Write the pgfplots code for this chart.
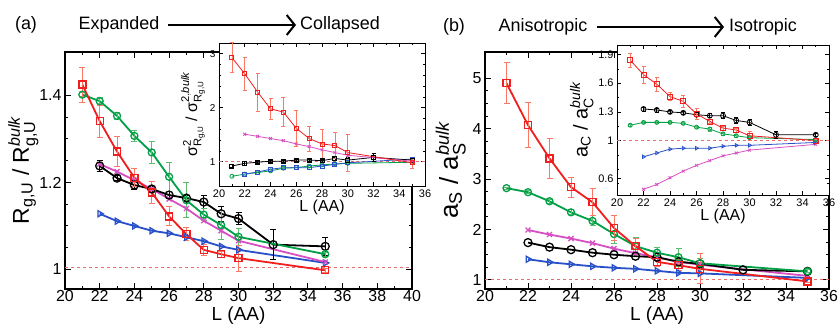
\documentclass[border=0pt]{standalone}
\usepackage{pgfplots}
\pgfplotsset{compat=1.18}
\usepackage{amsmath}
\usepackage{fontspec}
\setmainfont{Liberation Sans}
\usetikzlibrary{arrows.meta}

\definecolor{cred}{RGB}{240,30,30}
\definecolor{credEB}{RGB}{250,120,100}
\definecolor{cgreen}{RGB}{0,160,70}
\definecolor{cgreenEB}{RGB}{90,190,110}
\definecolor{cmag}{RGB}{215,80,195}
\definecolor{cblue}{RGB}{40,80,200}
\definecolor{cdash}{RGB}{230,110,110}

\pgfplotsset{
  mainax/.style={scale only axis, anchor=south west,
    axis line style={line width=1.5bp},
    major tick length=6bp, minor tick length=3bp,
    every tick/.style={line width=1bp, black},
    tick label style={font=\fontsize{16}{18}\selectfont},
    xticklabel style={inner sep=1.5bp},
    xlabel style={font=\fontsize{19}{21}\selectfont, inner sep=1bp, yshift=-2bp},
    ylabel style={font=\fontsize{23}{25}\selectfont},
    /pgf/number format/assume math mode=true,
    xlabel={L (AA)}},
  insax/.style={scale only axis, anchor=south west,
    axis background/.style={fill=white},
    axis line style={line width=0.8bp},
    major tick length=4bp, minor tick length=2bp,
    every tick/.style={line width=0.6bp, black},
    xticklabel style={font=\fontsize{11}{12}\selectfont},
    yticklabel style={font=\fontsize{10}{11}\selectfont},
    xlabel style={font=\fontsize{16}{18}\selectfont, yshift=4bp},
    ylabel style={font=\fontsize{16}{18}\selectfont, yshift=-2bp},
    /pgf/number format/assume math mode=true,
    xmin=20, xmax=36, xtick={20,22,...,36}, minor x tick num=1,
    xlabel={L (AA)}},
  mline/.style={line width=1.8bp, mark size=3.5bp},
  iline/.style={line width=0.8bp, mark size=2bp},
  ebred/.style={error bars/.cd, y dir=both, y explicit,
    error bar style={line width=1bp, credEB},
    error mark options={rotate=90, mark size=3bp, line width=1bp, credEB}},
  ebgreen/.style={error bars/.cd, y dir=both, y explicit,
    error bar style={line width=1bp, cgreenEB},
    error mark options={rotate=90, mark size=3bp, line width=1bp, cgreenEB}},
  ebgreeni/.style={error bars/.cd, y dir=both, y explicit,
    error bar style={line width=0.7bp, cgreenEB},
    error mark options={rotate=90, mark size=2bp, line width=0.7bp, cgreenEB}},
  ebblack/.style={error bars/.cd, y dir=both, y explicit,
    error bar style={line width=1bp, black},
    error mark options={rotate=90, mark size=3bp, line width=1bp, black}},
  ebredi/.style={error bars/.cd, y dir=both, y explicit,
    error bar style={line width=0.7bp, credEB},
    error mark options={rotate=90, mark size=2bp, line width=0.7bp, credEB}},
  ebblacki/.style={error bars/.cd, y dir=both, y explicit,
    error bar style={line width=0.7bp, black},
    error mark options={rotate=90, mark size=2bp, line width=0.7bp, black}},
}

\begin{document}
\begin{tikzpicture}
\path[use as bounding box] (0bp,0bp) rectangle (840bp,330bp);

% titles
\node[font=\fontsize{18}{20}\selectfont] at (26bp,305bp) {(a)};
\node[font=\fontsize{18}{20}\selectfont] at (119bp,305bp) {Expanded};
\draw[line width=2bp, -{Straight Barb[length=8bp, width=20bp, line width=2bp]}] (168bp,305bp) -- (296bp,305bp);
\node[font=\fontsize{18}{20}\selectfont] at (340bp,305bp) {Collapsed};
\node[font=\fontsize{18}{20}\selectfont] at (454bp,303bp) {(b)};
\node[font=\fontsize{18}{20}\selectfont] at (543bp,303bp) {Anisotropic};
\draw[line width=2bp, -{Straight Barb[length=8bp, width=20bp, line width=2bp]}] (597bp,303bp) -- (724bp,303bp);
\node[font=\fontsize{18}{20}\selectfont] at (763bp,303bp) {Isotropic};

% ---------------- panel (a) main
\begin{axis}[mainax, at={(65bp,41bp)}, width=347bp, height=237bp,
  xmin=20, xmax=40, ymin=0.955, ymax=1.5,
  xtick={20,22,...,40}, minor x tick num=1,
  ytick={1,1.2,1.4}, minor y tick num=3,
  ylabel shift=-6bp,
  ylabel={R$_{\text{g,U}}$ / R$^{\textit{bulk}}_{\text{g,U}}$}]
\addplot[cdash, dashed, line width=1bp] coordinates {(20,1.005) (40,1.005)};
\addplot[mline, cblue, mark=triangle, mark options={solid, rotate=-90, line width=1.3bp, fill=white}] table {
22 1.128
23 1.111
24 1.100
25 1.089
26 1.083
27 1.074
28 1.065
29 1.053
30 1.045
35 1.015
};
\addplot[mline, cmag, mark=x, mark options={solid, line width=1.3bp}] table {
22 1.242
23 1.225
24 1.205
25 1.185
26 1.162
27 1.140
28 1.112
29 1.089
30 1.066
35 1.017
};
\addplot[mline, black, mark=o, mark size=4bp, mark options={solid, line width=1.3bp, fill=white}, ebblack] table[y error index=2] {
22 1.238 0.013
23 1.210 0.005
24 1.194 0.010
25 1.185 0.005
26 1.171 0.008
27 1.164 0.005
28 1.155 0.015
29 1.128 0.017
30 1.117 0.013
32 1.057 0.035
35 1.053 0.020
};
\addplot[mline, cgreen, mark=o, mark options={solid, line width=1.3bp, fill=white}, ebgreen] table[y error index=2] {
21 1.402 0.005
22 1.387 0.008
23 1.353 0.008
24 1.307 0.012
25 1.269 0.025
26 1.213 0.033
27 1.159 0.040
28 1.126 0.013
29 1.102 0.033
30 1.075 0.020
35 1.035 0.005
};
\addplot[mline, cred, mark=square, mark options={solid, line width=1.3bp, fill=white}, ebred] table[y error index=2] {
21 1.425 0.040
22 1.341 0.037
23 1.271 0.035
24 1.211 0.020
25 1.177 0.025
26 1.122 0.022
27 1.081 0.015
28 1.045 0.012
29 1.035 0.007
30 1.026 0.030
35 0.998 0.005
};
\end{axis}

% ---------------- panel (a) inset
\begin{axis}[insax, at={(219bp,144bp)}, width=206bp, height=143bp,
  ymin=0.55, ymax=3.2, ytick={1,2,3}, minor y tick num=4,
  ylabel={σ$^{\text{2}}_{\text{R}_{\text{g,U}}}$ / σ$^{\text{2},\textit{bulk}}_{\text{R}_{\text{g,U}}}$}]
\addplot[cdash, dashed, line width=0.8bp] coordinates {(20,1) (36,1)};
\addplot[iline, cgreen, mark=o, mark options={solid, fill=white}] table {
21 0.73
22 0.77
23 0.80
24 0.83
25 0.88
26 0.89
27 0.92
28 0.94
29 0.96
30 0.97
35 0.99
};
\addplot[iline, cblue, mark=square, mark options={solid, fill=white}] table {
22 0.77
23 0.81
24 0.86
25 0.89
26 0.89
27 0.89
28 0.92
29 0.95
30 0.98
35 1.05
};
\addplot[iline, black, mark=square, mark options={solid, fill=white}, ebblacki] table[y error index=2] {
21 0.92 0.03
22 0.97 0.03
23 0.99 0.02
24 1.01 0.02
25 1.01 0.02
26 1.03 0.02
27 1.03 0.02
28 1.02 0.03
29 1.06 0.03
30 1.03 0.05
32 1.08 0.07
35 1.03 0.04
};
\addplot[iline, cmag, mark=x, mark options={solid}] table {
22 1.51
23 1.47
24 1.43
25 1.39
26 1.33
27 1.28
28 1.22
29 1.17
30 1.12
35 1.01
};
\addplot[iline, cred, mark=square, mark options={solid, fill=white}, ebredi] table[y error index=2] {
21 2.93 0.28
22 2.63 0.31
23 2.29 0.35
24 1.98 0.19
25 1.92 0.27
26 1.62 0.33
27 1.43 0.23
28 1.33 0.27
29 1.30 0.24
30 1.17 0.34
35 0.98 0.11
};
\end{axis}

% ---------------- panel (b) main
\begin{axis}[mainax, at={(485bp,41bp)}, width=344bp, height=237bp,
  xmin=20, xmax=36, ymin=0.82, ymax=5.52,
  xtick={20,22,...,36}, minor x tick num=1,
  ytick={1,2,3,4,5}, minor y tick num=3,
  ylabel style={font=\fontsize{26}{28}\selectfont},
  ylabel={a$_{\text{S}}$ / a$^{\textit{bulk}}_{\text{S}}$}]
\addplot[cdash, dashed, line width=1bp] coordinates {(20,1.01) (36,1.01)};
\addplot[mline, cblue, mark=triangle, mark options={solid, rotate=-90, line width=1.3bp, fill=white}] table {
22 1.41
23 1.35
24 1.31
25 1.27
26 1.24
27 1.22
28 1.18
29 1.14
30 1.13
35 1.04
};
\addplot[mline, cmag, mark=x, mark options={solid, line width=1.3bp}] table {
22 1.99
23 1.90
24 1.82
25 1.73
26 1.62
27 1.53
28 1.45
29 1.36
30 1.30
35 1.08
};
\addplot[mline, black, mark=o, mark size=4bp, mark options={solid, line width=1.3bp, fill=white}] table {
22 1.74
23 1.65
24 1.60
25 1.54
26 1.50
27 1.47
28 1.45
29 1.36
30 1.32
32 1.20
35 1.17
};
\addplot[mline, cgreen, mark=o, mark options={solid, line width=1.3bp, fill=white}, ebgreen] table[y error index=2] {
21 2.82 0.02
22 2.74 0.03
23 2.56 0.04
24 2.34 0.05
25 2.17 0.10
26 1.91 0.18
27 1.67 0.17
28 1.54 0.11
29 1.45 0.18
30 1.33 0.10
35 1.17 0.03
};
\addplot[mline, cred, mark=square, mark options={solid, line width=1.3bp, fill=white}, ebred] table[y error index=2] {
21 4.90 0.41
22 4.07 0.45
23 3.41 0.39
24 2.84 0.20
25 2.54 0.27
26 2.03 0.24
27 1.67 0.15
28 1.36 0.10
29 1.29 0.11
30 1.22 0.30
35 0.97 0.03
};
\end{axis}

% ---------------- panel (b) inset
\begin{axis}[insax, at={(617bp,135bp)}, width=212bp, height=150bp,
  ymin=0.43, ymax=2.0, ytick={0.6,1,1.3,1.6,1.9},
  minor ytick={0.55,0.7,0.85,1.15,1.45,1.75},
  yticklabel style={font=\fontsize{11}{12}\selectfont},
  ylabel style={font=\fontsize{20}{22}\selectfont},
  ylabel={a$_{\text{C}}$ / a$^{\textit{bulk}}_{\text{C}}$}]
\addplot[cdash, dashed, line width=0.8bp] coordinates {(20,1) (36,1)};
\addplot[iline, cmag, mark=x, mark options={solid}] table {
22 0.49
23 0.54
24 0.61
25 0.68
26 0.74
27 0.79
28 0.84
29 0.87
30 0.90
35 0.96
};
\addplot[iline, cblue, mark=triangle, mark options={solid, rotate=-90, fill=white}] table {
22 0.83
23 0.87
24 0.91
25 0.92
26 0.92
27 0.92
28 0.94
29 0.95
30 0.95
35 0.98
};
\addplot[iline, cgreen, mark=o, mark options={solid, fill=white}, ebgreeni] table[y error index=2] {
21 1.16 0.01
22 1.19 0.01
23 1.19 0.01
24 1.19 0.01
25 1.18 0.01
26 1.14 0.01
27 1.12 0.02
28 1.07 0.02
29 1.05 0.02
30 1.03 0.01
35 1.01 0.01
};
\addplot[iline, black, mark=o, mark size=2.5bp, mark options={solid, fill=white}, ebblacki] table[y error index=2] {
22 1.33 0.02
23 1.32 0.02
24 1.30 0.02
25 1.29 0.02
26 1.27 0.02
27 1.26 0.02
28 1.26 0.03
29 1.21 0.03
30 1.19 0.03
32 1.06 0.04
35 1.06 0.02
};
\addplot[iline, cred, mark=square, mark size=2.5bp, mark options={solid, fill=white}, ebredi] table[y error index=2] {
21 1.84 0.07
22 1.69 0.09
23 1.59 0.07
24 1.46 0.04
25 1.41 0.06
26 1.28 0.06
27 1.20 0.02
28 1.13 0.02
29 1.11 0.02
30 1.05 0.05
35 1.00 0.01
};
\end{axis}
\end{tikzpicture}
\end{document}
